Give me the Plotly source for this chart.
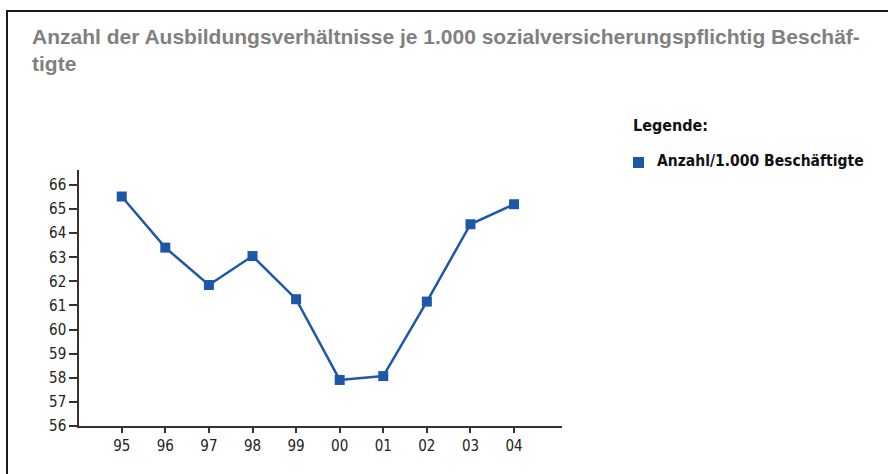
import plotly.graph_objects as go

years = ["95", "96", "97", "98", "99", "00", "01", "02", "03", "04"]
values = [65.52, 63.4, 61.85, 63.05, 61.26, 57.91, 58.07, 61.16, 64.37, 65.2]
y_ticks = list(range(56, 67))

title_text = "Anzahl der Ausbildungsverhältnisse je 1.000 sozialversicherungspflichtig Beschäf-<br>tigte"
legend_title = "Legende:"
series_name = "Anzahl/1.000 Beschäftigte"

W, H = 888, 474
L, R = 79, 562
T, B = 170, 426
pw, ph = R - L, B - T

def px(x):
    return (x - L) / pw

def py(y):
    return (B - y) / ph

narrow = "DejaVu Sans Condensed, Liberation Sans Narrow, Arial Narrow, sans-serif"
blue = "#1f57a8"

fig = go.Figure()
fig.add_trace(go.Scatter(
    x=list(range(len(years))), y=values, mode="lines+markers",
    name=series_name,
    line=dict(color=blue, width=2.5),
    marker=dict(symbol="square", size=10, color=blue),
    showlegend=False,
))

fig.update_layout(
    width=W, height=H,
    margin=dict(l=L, r=W - R, t=T, b=H - B, pad=0),
    paper_bgcolor="white", plot_bgcolor="white",
    xaxis=dict(
        range=[-0.98, 10.1], tickmode="array",
        tickvals=list(range(len(years))), ticktext=years,
        showgrid=False, zeroline=False, showline=True,
        linecolor="#333333", linewidth=1.5,
        ticks="outside", ticklen=5, tickcolor="#333333", tickwidth=1.5,
        tickfont=dict(family=narrow, size=15, color="#222222"),
        fixedrange=True,
    ),
    yaxis=dict(
        range=[56, 66.62], tickmode="array", tickvals=y_ticks,
        ticktext=[str(v) for v in y_ticks],
        showgrid=False, zeroline=False, showline=True,
        linecolor="#333333", linewidth=1.5,
        ticks="outside", ticklen=8, tickcolor="#333333", tickwidth=1.5,
        tickfont=dict(family=narrow, size=15, color="#222222"),
        fixedrange=True,
    ),
    shapes=[
        dict(type="rect", xref="paper", yref="paper",
             x0=px(7), x1=px(910), y0=py(11), y1=py(500),
             line=dict(color="#1a1a1a", width=2), fillcolor="rgba(0,0,0,0)",
             layer="below"),
        dict(type="rect", xref="paper", yref="paper",
             x0=px(633), x1=px(644), y0=py(168), y1=py(157),
             line=dict(width=0), fillcolor=blue),
    ],
    annotations=[
        dict(text="<b>" + title_text + "</b>", xref="paper", yref="paper",
             x=px(30), y=py(23), xanchor="left", yanchor="top",
             showarrow=False, align="left",
             font=dict(family="Liberation Sans, Arial, sans-serif", size=21, color="#808080")),
        dict(text="<b>" + legend_title + "</b>", xref="paper", yref="paper",
             x=px(631), y=py(125), xanchor="left", yanchor="middle",
             showarrow=False,
             font=dict(family=narrow, size=16, color="#111111")),
        dict(text="<b>" + series_name + "</b>", xref="paper", yref="paper",
             x=px(655), y=py(161), xanchor="left", yanchor="middle",
             showarrow=False,
             font=dict(family=narrow, size=15.5, color="#111111")),
    ],
)

fig.write_html("out.html", config={"displayModeBar": False},
               post_script="document.body.style.margin='0';")
